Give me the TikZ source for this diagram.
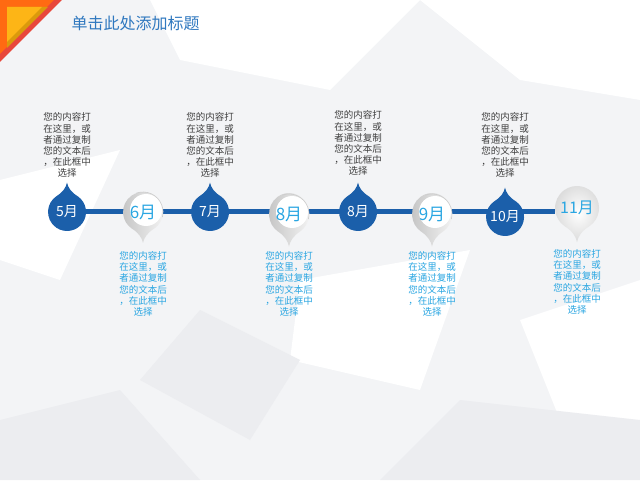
\documentclass[tikz,border=0pt]{standalone}
\usepackage{fontspec}
\setmainfont{Noto Sans CJK SC}
\usepackage{xcolor}
\usepackage{tikz}
\usetikzlibrary{positioning}

\definecolor{monthblue}{HTML}{1B5FAA}
\definecolor{skyblue}{HTML}{2AA6E2}
\definecolor{notegray}{HTML}{3F3F3F}
\definecolor{titleblue}{HTML}{2F78BF}
\definecolor{bggray}{HTML}{F3F4F6}
\definecolor{facetgray}{HTML}{ECEDF0}
\definecolor{cornerred}{HTML}{E8473B}
\definecolor{cornerorange}{HTML}{FF6A12}
\definecolor{cornergold}{HTML}{DB9A0C}
\definecolor{corneryellow}{HTML}{FDB516}

\pgfdeclarelayer{bg}
\pgfdeclarelayer{drops}
\pgfsetlayers{bg,drops,main}

\tikzset{
pics/drop/.style={code={
\path[pic actions] (11.5,16.4) arc[start angle=55,end angle=-235,radius=20]
.. controls (-4,21) and (-1,26) .. (0,31)
.. controls (1,26) and (4,21) .. (11.5,16.4) -- cycle;
}}
}

\begin{document}
\begin{tikzpicture}[
x=1pt,y=1pt,
note/.style={
align=center,
inner sep=0pt,
text=notegray,
font=\fontsize{9.5}{11.2}\selectfont
},
lownote/.style={
note,
text=skyblue
},
bluemonth/.style={
circle,
minimum size=38pt,
inner sep=0pt,
text=white,
font=\fontsize{14}{14}\selectfont
},
graymonth/.style={
circle,
minimum size=40pt,
inner sep=0pt,
text=skyblue,
font=\fontsize{17}{17}\selectfont
},
timeline/.style={line width=5pt,monthblue},
title/.style={anchor=west,text=titleblue,font=\fontsize{16}{16}\selectfont}
]

\useasboundingbox (0,0) rectangle (640,480);

% Title
\node[title] (title) at (68,457) {单击此处添加标题};

% Months
\node[bluemonth] (m5) at (67,268) {5月};
\node[graymonth] (m6) at (143,268) {6月};
\node[bluemonth] (m7) at (210,268) {7月};
\node[graymonth] (m8a) at (289,266) {8月};
\node[bluemonth] (m8b) at (358,268) {8月};
\node[graymonth] (m9) at (432,266) {9月};
\node[bluemonth] (m10) at (505,263) {10月};
\node[graymonth,minimum size=44pt,font=\fontsize{16}{16}\selectfont] (m11) at (577,272) {11月};

% Notes above
\node[note,above=15pt of m5] (n5)
{您的内容打\\在这里，或\\者通过复制\\您的文本后\\，在此框中\\选择};
\node[note,above=15pt of m7] (n7)
{您的内容打\\在这里，或\\者通过复制\\您的文本后\\，在此框中\\选择};
\node[note,above=17pt of m8b] (n8b)
{您的内容打\\在这里，或\\者通过复制\\您的文本后\\，在此框中\\选择};
\node[note,above=20pt of m10] (n10)
{您的内容打\\在这里，或\\者通过复制\\您的文本后\\，在此框中\\选择};

% Notes below
\node[lownote,below=19pt of m6] (n6)
{您的内容打\\在这里，或\\者通过复制\\您的文本后\\，在此框中\\选择};
\node[lownote,below=17pt of m8a] (n8a)
{您的内容打\\在这里，或\\者通过复制\\您的文本后\\，在此框中\\选择};
\node[lownote,below=17pt of m9] (n9)
{您的内容打\\在这里，或\\者通过复制\\您的文本后\\，在此框中\\选择};
\node[lownote,below=19pt of m11] (n11)
{您的内容打\\在这里，或\\者通过复制\\您的文本后\\，在此框中\\选择};

% Drops
\begin{pgfonlayer}{drops}
\pic[fill=monthblue,scale=0.95] at (m5) {drop};
\pic[fill=monthblue,scale=0.95] at (m7) {drop};
\pic[fill=monthblue,scale=0.95] at (m8b) {drop};
\pic[fill=monthblue,scale=0.95] at (m10) {drop};

\pic[yscale=-1,left color=gray!45,right color=gray!8] at (m6) {drop};
\fill[white] ([shift={(3,2)}]m6.center) circle (16);
\draw[gray!40,line width=0.6pt] ([shift={(110:20)}]m6.center) arc[start angle=110,end angle=-15,radius=20];

\pic[yscale=-1.05,left color=gray!45,right color=gray!8] at (m8a) {drop};
\fill[white] ([shift={(3,2)}]m8a.center) circle (16);
\draw[gray!40,line width=0.6pt] ([shift={(110:20)}]m8a.center) arc[start angle=110,end angle=-15,radius=20];

\pic[yscale=-1.05,left color=gray!45,right color=gray!8] at (m9) {drop};
\fill[white] ([shift={(3,2)}]m9.center) circle (16);
\draw[gray!40,line width=0.6pt] ([shift={(110:20)}]m9.center) arc[start angle=110,end angle=-15,radius=20];

\pic[scale=1.1,yscale=-1,inner color=white,outer color=gray!28] at (m11) {drop};
\end{pgfonlayer}

% Background
\begin{pgfonlayer}{bg}
\fill[bggray] (0,0) rectangle (640,480);
\fill[white] (150,480) -- (420,480) -- (330,390) -- (180,420) -- cycle;
\fill[white] (420,480) -- (640,480) -- (640,380) -- (520,400) -- cycle;
\fill[white] (0,300) -- (120,330) -- (60,200) -- (0,220) -- cycle;
\fill[white] (300,200) -- (470,230) -- (420,90) -- (290,120) -- cycle;
\fill[white] (520,160) -- (640,200) -- (640,40) -- (560,60) -- cycle;
\fill[facetgray] (0,0) -- (200,0) -- (120,90) -- (0,60) -- cycle;
\fill[facetgray] (380,0) -- (640,0) -- (640,60) -- (460,80) -- cycle;
\fill[facetgray] (200,170) -- (300,120) -- (250,40) -- (140,100) -- cycle;

% Corner
\fill[cornerred] (0,480) -- (62,480) -- (0,418) -- cycle;
\fill[cornerorange] (0,480) -- (54,480) -- (0,426) -- cycle;
\fill[cornergold] (7,473) -- (48,473) -- (7,432) -- cycle;
\fill[corneryellow] (7,473) -- (42,473) -- (7,438) -- cycle;

% Line
\draw[timeline] (m5) -- (m5 -| m11.west);
\end{pgfonlayer}

\end{tikzpicture}
\end{document}
